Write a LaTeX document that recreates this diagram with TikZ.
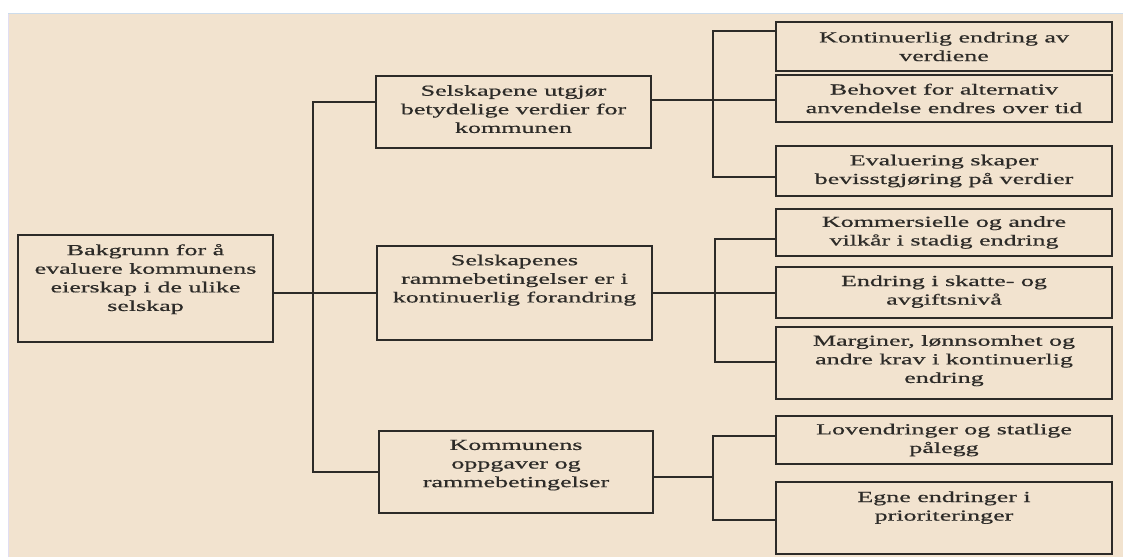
\documentclass[tikz,border=0pt]{standalone}
\usepackage{fontspec}
\setmainfont{Liberation Serif}[FakeStretch=1.7,FakeBold=0.6]
\definecolor{bg}{RGB}{242,227,207}
\definecolor{ink}{RGB}{45,43,40}
\definecolor{edgeA}{RGB}{205,220,235}
\definecolor{edgeB}{RGB}{225,222,242}
\newcommand{\dn}[1]{\rule[-#1pt]{0pt}{#1pt}}
\begin{document}
\begin{tikzpicture}[x=1pt,y=-1pt,
  boxnode/.style={draw=ink,line width=1.6pt,rectangle,inner sep=0pt,align=center,
    text=ink,font=\fontsize{15.3}{18.6}\selectfont},
  conn/.style={draw=ink,line width=1.2pt}]
\useasboundingbox (0,0) rectangle (1123,557);
\fill[white] (0,0) rectangle (1123,557);
\fill[bg] (9,14) rectangle (1123,557);
\draw[edgeA,line width=0.8pt] (8,13.5) -- (1123,13.5);
\draw[edgeB,line width=0.8pt] (8.5,13.5) -- (8.5,557);

% level 0
\node[boxnode,minimum width=255pt,minimum height=107pt] (root) at (145.5,288.5)
  {Bakgrunn for å\\evaluere kommunens\\eierskap i de ulike\\selskap\dn{22}};
% level 1
\node[boxnode,minimum width=275pt,minimum height=72pt] (B1) at (513.5,112)
  {Selskapene utgjør\\betydelige verdier for\\kommunen\dn{6}};
\node[boxnode,minimum width=275pt,minimum height=94pt] (B2) at (514.5,293)
  {Selskapenes\\rammebetingelser er i\\kontinuerlig forandring\dn{29}};
\node[boxnode,minimum width=274pt,minimum height=82pt] (B3) at (516,472)
  {Kommunens\\oppgaver og\\rammebetingelser\dn{17}};
% level 2
\node[boxnode,minimum width=336pt,minimum height=49pt] (L1) at (944,46.5)
  {Kontinuerlig endring av\\verdiene};
\node[boxnode,minimum width=336pt,minimum height=47pt] (L2) at (944,98.5)
  {Behovet for alternativ\\anvendelse endres over tid};
\node[boxnode,minimum width=336pt,minimum height=50pt] (L3) at (944,171)
  {Evaluering skaper\\bevisstgjøring på verdier};
\node[boxnode,minimum width=336pt,minimum height=47pt] (L4) at (944,232.5)
  {Kommersielle og andre\\vilkår i stadig endring};
\node[boxnode,minimum width=336pt,minimum height=51pt] (L5) at (944,292.5)
  {Endring i skatte- og\\avgiftsnivå\dn{5}};
\node[boxnode,minimum width=336pt,minimum height=72pt] (L6) at (944,363)
  {Marginer, lønnsomhet og\\andre krav i kontinuerlig\\endring\dn{8}};
\node[boxnode,minimum width=336pt,minimum height=48pt] (L7) at (944,440)
  {Lovendringer og statlige\\pålegg};
\node[boxnode,minimum width=336pt,minimum height=72pt] (L8) at (944,518)
  {Egne endringer i\\prioriteringer\dn{24}};

% trunk from root
\coordinate (b1w) at ([yshift=10pt]B1.west);
\coordinate (tt) at (313,102);
\coordinate (tb) at (313,472);
\draw[conn] (b1w) -- (tt) -- (tb) -- (tb -| B3.west);
\coordinate (r0) at (root.east |- B2.west);
\draw[conn] (r0) -- (B2.west);

% bracket 1
\coordinate (b1e) at ([yshift=12pt]B1.east);
\coordinate (k1t) at (713,31);
\coordinate (k1b) at (713,177);
\draw[conn] (b1e) -- (b1e -| L2.west);
\draw[conn] (k1t -| L1.west) -- (k1t) -- (k1b) -- (k1b -| L3.west);

% bracket 2
\coordinate (k2t) at (715,239);
\coordinate (k2b) at (715,362);
\draw[conn] (B2.east) -- (B2.east -| L5.west);
\draw[conn] (k2t -| L4.west) -- (k2t) -- (k2b) -- (k2b -| L6.west);

% bracket 3
\coordinate (b3e) at ([yshift=-5pt]B3.east);
\coordinate (k3t) at (713,436);
\coordinate (k3b) at (713,520);
\draw[conn] (b3e) -- (b3e -| k3t);
\draw[conn] (k3t -| L7.west) -- (k3t) -- (k3b) -- (k3b -| L8.west);
\end{tikzpicture}
\end{document}
